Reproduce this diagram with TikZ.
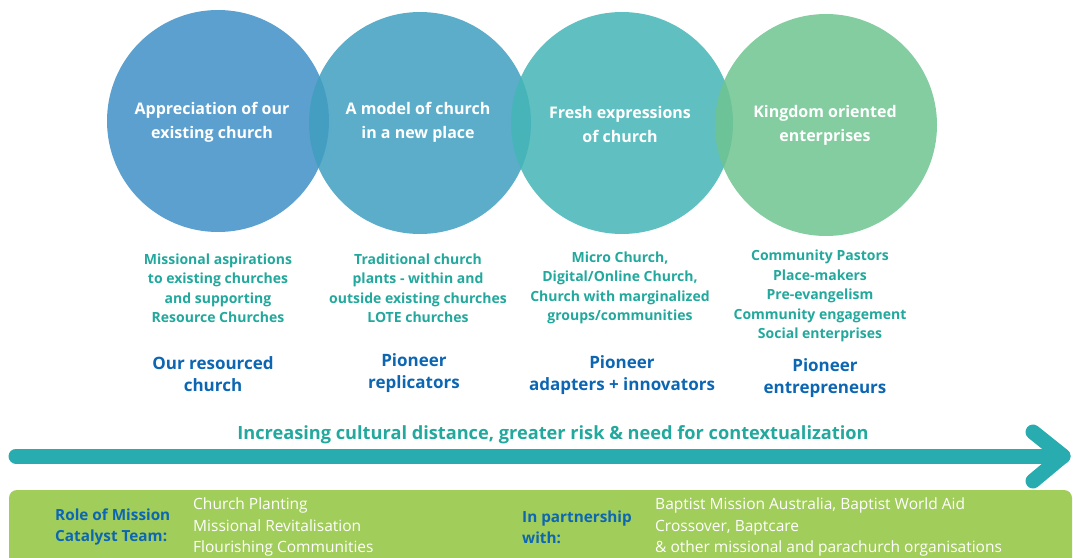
\documentclass[tikz,border=0pt]{standalone}
\usepackage{fontspec}
\setmainfont{Open Sans}
\definecolor{bubA}{RGB}{62,143,199}
\definecolor{bubB}{RGB}{62,159,192}
\definecolor{bubC}{RGB}{68,181,182}
\definecolor{bubD}{RGB}{110,196,143}
\definecolor{desctxt}{RGB}{34,168,156}
\definecolor{roletxt}{RGB}{12,102,178}
\definecolor{arrowcol}{RGB}{40,172,176}
\definecolor{boxgreen}{RGB}{161,205,90}
\begin{document}
\begin{tikzpicture}[x=1pt, y=-1pt,
  bubble/.style={circle, inner sep=0pt, minimum size=222pt, fill opacity=0.85},
  title/.style={text=white, align=center, font=\bfseries\fontsize{16}{24}\selectfont},
  desc/.style={text=desctxt, align=center, font=\bfseries\fontsize{14}{19.5}\selectfont},
  role/.style={text=roletxt, align=center, font=\bfseries\fontsize{17}{22}\selectfont},
  boxlabel/.style={text=roletxt, align=left, anchor=west, inner sep=0pt, font=\bfseries\fontsize{15.3}{21}\selectfont},
  boxitem/.style={text=white, align=left, anchor=west, inner sep=0pt, font=\fontsize{15.5}{21.5}\selectfont},
  arrowline/.style={draw=arrowcol, line width=15pt, line cap=round, line join=round}]
\useasboundingbox (0,0) rectangle (1073,557);

\node[bubble, fill=bubA] (c1) at (218,121) {};
\node[bubble, fill=bubB] (c2) at (420,123) {};
\node[bubble, fill=bubC] (c3) at (622,123) {};
\node[bubble, fill=bubD] (c4) at (826,125) {};

\node[title] (t1) at (212,122) {Appreciation of our\\existing church};
\node[title] (t2) at (418,122) {A model of church\\in a new place};
\node[title] (t3) at (620,124) {Fresh expressions\\of church};
\node[title] (t4) at (825,125) {Kingdom oriented\\enterprises};

\node[desc] (d1) at (218,288) {Missional aspirations\\to existing churches\\and supporting\\Resource Churches};
\node[desc] (d2) at (418,288) {Traditional church\\plants - within and\\outside existing churches\\LOTE churches};
\node[desc] (d3) at (620,288) {Micro Church,\\Digital/Online Church,\\Church with marginalized\\groups/communities};
\node[desc] (d4) at (820,296) {Community Pastors\\Place-makers\\Pre-evangelism\\Community engagement\\Social enterprises};

\node[role] (r1) at (213,374) {Our resourced\\church};
\node[role] (r2) at (414,373) {Pioneer\\replicators};
\node[role] (r3) at (622,375) {Pioneer\\adapters + innovators};
\node[role] (r4) at (825,378) {Pioneer\\entrepreneurs};

\node[desc, font=\bfseries\fontsize{18.2}{22}\selectfont] (dist) at (553,435) {Increasing cultural distance, greater risk \& need for contextualization};

\coordinate (tail) at (16,456);
\coordinate (tip) at (1063,456);
\coordinate (armup) at (1033,432);
\coordinate (armdown) at (1033,481);
\draw[arrowline] (tail) -- (tip);
\draw[arrowline] (armup) -- (tip) -- (armdown);

\fill[boxgreen, rounded corners=8pt] (9,490) rectangle (1072,580);
\node[boxlabel] (rolelbl) at (55,527) {Role of Mission\\Catalyst Team:};
\node[boxitem] (roleitems) at (193,527) {Church Planting\\Missional Revitalisation\\Flourishing Communities};
\node[boxlabel] (partlbl) at (522,527) {In partnership\\with:};
\node[boxitem] (partitems) at (655,527) {Baptist Mission Australia, Baptist World Aid\\Crossover, Baptcare\\\& other missional and parachurch organisations};
\end{tikzpicture}
\end{document}
